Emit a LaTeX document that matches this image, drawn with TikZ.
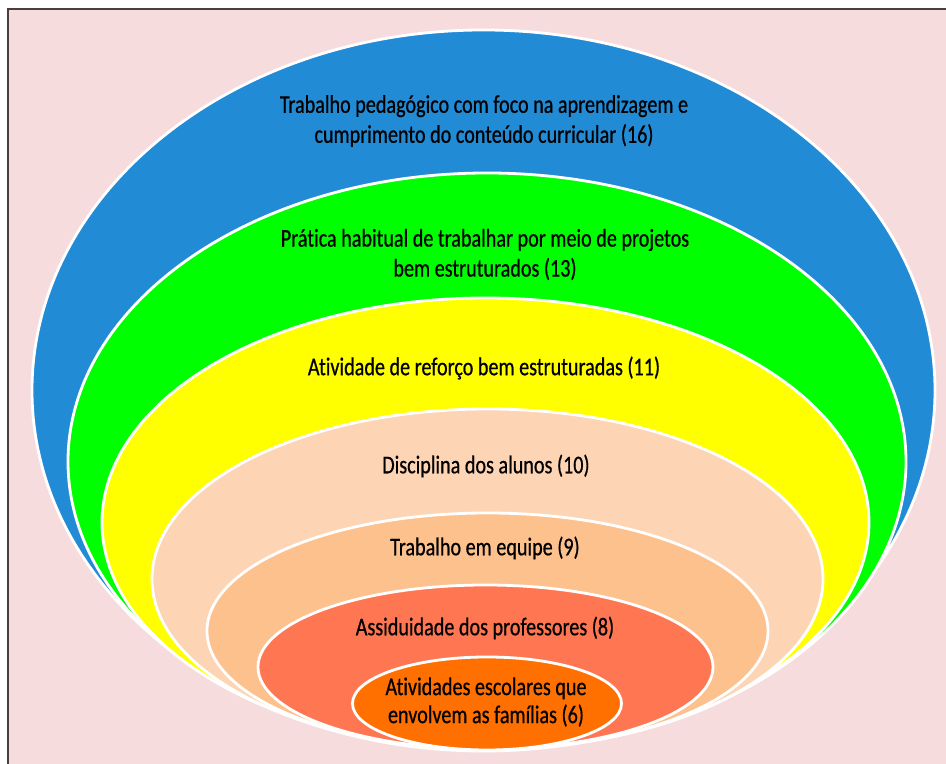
\documentclass[tikz,border=0pt]{standalone}
\usepackage{fontspec}
\setmainfont{Carlito}[FakeStretch=0.79, FakeBold=0.6, Ligatures=NoCommon]
\definecolor{bgpink}{HTML}{F7DCDD}
\definecolor{frame}{HTML}{4A3F3F}
\definecolor{cblue}{HTML}{228BD6}
\definecolor{cgreen}{HTML}{00FF00}
\definecolor{cyellow}{HTML}{FFFF00}
\definecolor{cpeach}{HTML}{FDD4B4}
\definecolor{ctan}{HTML}{FDC18E}
\definecolor{cred}{HTML}{FF7652}
\definecolor{corange}{HTML}{FF7000}
\tikzset{
  ring/.style={draw=white, line width=2.8bp},
  lbl/.style={align=center, inner sep=0pt, text=black,
    font=\fontsize{25.5bp}{30bp}\selectfont}
}
\begin{document}
\begin{tikzpicture}[x=1bp,y=1bp]
\useasboundingbox (0,0) rectangle (946,764);
\fill[white] (0,0) rectangle (946,764);
\fill[bgpink] (8,0) rectangle (946,755);
\draw[frame, line width=1.4bp] (8,0) -- (8,755) -- (946,755);
% ellipses: centre (cx, 764-cy)
\filldraw[ring, fill=cblue]   (483.5,373.5) ellipse [x radius=451.5bp, y radius=360.5bp];
\filldraw[ring, fill=cgreen]  (487,302.5)   ellipse [x radius=419bp,   y radius=288.5bp];
\filldraw[ring, fill=cyellow] (485.5,241.5) ellipse [x radius=383.5bp, y radius=224.5bp];
\filldraw[ring, fill=cpeach]  (487.5,185)   ellipse [x radius=335.5bp, y radius=170bp];
\filldraw[ring, fill=ctan]    (487.5,133)   ellipse [x radius=280.5bp, y radius=118bp];
\filldraw[ring, fill=cred]    (485.5,97)    ellipse [x radius=227.5bp, y radius=82bp];
\filldraw[ring, fill=corange] (487,60.5)    ellipse [x radius=134.5bp, y radius=46.5bp];
% labels
\node[lbl] (t16) at (484,643) {Trabalho pedagógico com foco na aprendizagem e\\cumprimento do conteúdo curricular (16)};
\node[lbl] (t13) at (485,509.5) {Prática habitual de trabalhar por meio de projetos\\bem estruturados (13)};
\node[lbl] (t11) at (484,396) {Atividade de reforço bem estruturadas (11)};
\node[lbl] (t10) at (486,298) {Disciplina dos alunos (10)};
\node[lbl] (t9)  at (485,216) {Trabalho em equipe (9)};
\node[lbl] (t8)  at (485,136) {Assiduidade dos professores (8)};
\node[lbl, font=\fontsize{25.5bp}{28bp}\selectfont] (t6) at (486,62) {Atividades escolares que\\envolvem as famílias (6)};
\end{tikzpicture}
\end{document}
